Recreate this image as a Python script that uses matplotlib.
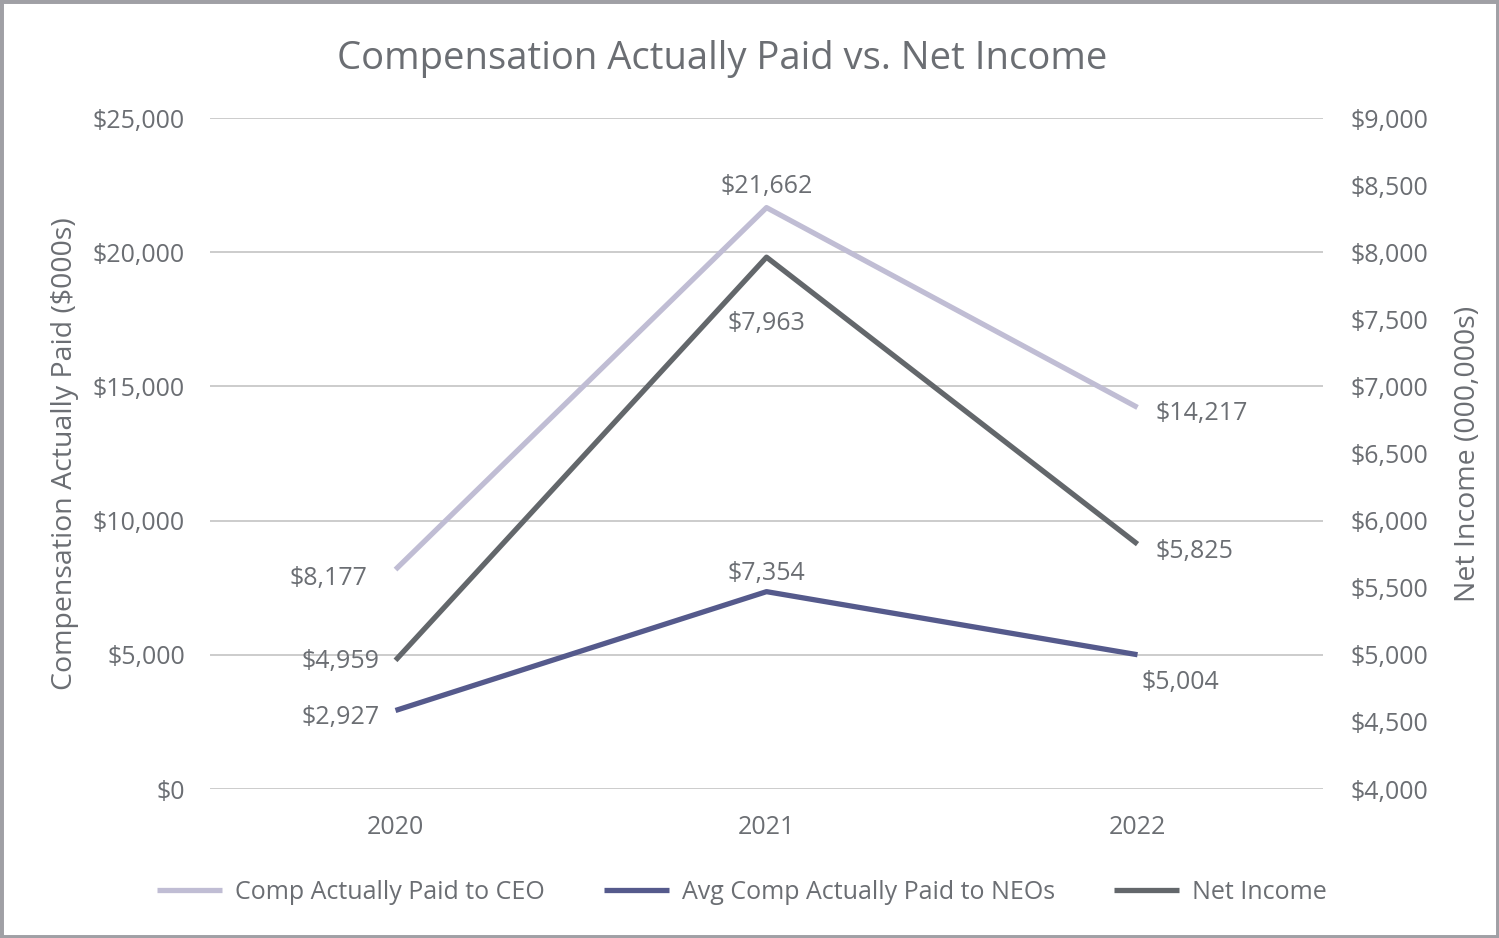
import matplotlib.pyplot as plt
from matplotlib.patches import Rectangle

plt.rcParams['font.family'] = ['Open Sans', 'DejaVu Sans']

years = ["2020", "2021", "2022"]
ceo_cap = [8177, 21662, 14217]
neo_cap = [2927, 7354, 5004]
net_income = [4959, 7963, 5825]

txt = '#6b6e73'
c_ceo = '#c0bdd4'
c_neo = '#555a8c'
c_ni = '#63676b'

fig = plt.figure(figsize=(14.99, 9.38), dpi=100)
fig.patches.append(Rectangle((0, 0), 1, 1, transform=fig.transFigure, fill=False,
                             edgecolor='#a0a0a5', linewidth=5, zorder=10))
ax = fig.add_axes([0.1401, 0.1588, 0.7425, 0.7154])
ax2 = ax.twinx()

x = list(range(len(years)))
ax.plot(x, ceo_cap, color=c_ceo, lw=3.8, solid_capstyle='butt', label='Comp Actually Paid to CEO', zorder=3)
ax.plot(x, neo_cap, color=c_neo, lw=3.8, solid_capstyle='butt', label='Avg Comp Actually Paid to NEOs', zorder=3)
ax2.plot(x, net_income, color=c_ni, lw=3.8, solid_capstyle='butt', label='Net Income', zorder=3)

ax.set_xlim(-0.5, 2.5)
ax.set_ylim(0, 25000)
ax2.set_ylim(4000, 9000)
ax.set_yticks(range(0, 25001, 5000))
ax2.set_yticks(range(4000, 9001, 500))
ax.set_yticklabels(['${:,}'.format(v) for v in range(0, 25001, 5000)])
ax2.set_yticklabels(['${:,}'.format(v) for v in range(4000, 9001, 500)])
ax.set_xticks(x)
ax.set_xticklabels(years)

ax.grid(axis='y', color='#c8c8c8', lw=1.3)
ax.set_axisbelow(True)
for a in (ax, ax2):
    for s in a.spines.values():
        s.set_visible(False)
    a.tick_params(length=0, labelsize=18, colors=txt)
ax.tick_params(axis='y', pad=18)
ax.tick_params(axis='x', pad=19)
ax2.tick_params(axis='y', pad=20)

ax.set_ylabel('Compensation Actually Paid ($000s)', fontsize=20.5, color=txt, labelpad=10)
ax2.set_ylabel('Net Income (000,000s)', fontsize=20.5, color=txt, labelpad=18)
fig.text(0.482, 0.937, 'Compensation Actually Paid vs. Net Income', fontsize=27.5,
         color=txt, ha='center', va='center')

def lab(a, xi, yi, dx, dy, ha):
    a.annotate('${:,}'.format(yi), (xi, yi), xytext=(dx, dy), textcoords='offset pixels',
               ha=ha, va='center', fontsize=18, color=txt)

lab(ax, 0, ceo_cap[0], -28, -9, 'right')
lab(ax, 1, ceo_cap[1], 0, 21, 'center')
lab(ax, 2, ceo_cap[2], 18, -6, 'left')
lab(ax2, 0, net_income[0], -16, -1, 'right')
lab(ax2, 1, net_income[1], 0, -66, 'center')
lab(ax2, 2, net_income[2], 18, -7, 'left')
lab(ax, 0, neo_cap[0], -16, -7, 'right')
lab(ax, 1, neo_cap[1], 0, 18, 'center')
lab(ax, 2, neo_cap[2], 43, -28, 'center')

h1, l1 = ax.get_legend_handles_labels()
h2, l2 = ax2.get_legend_handles_labels()
fig.legend(h1 + h2, l1 + l2, loc='center', bbox_to_anchor=(0.495, 0.049), ncol=3,
           frameon=False, fontsize=18, labelcolor=txt, handlelength=2.6,
           handletextpad=0.52, columnspacing=2.36)

fig.savefig('out.png', dpi=100)
